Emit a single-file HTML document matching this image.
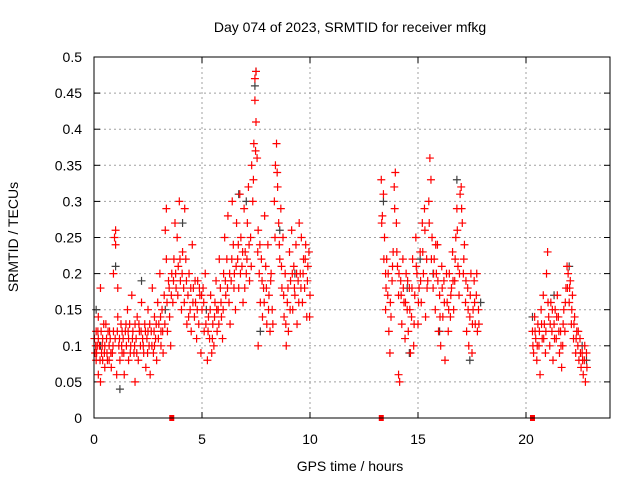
<!DOCTYPE html>
<html><head><meta charset="utf-8"><style>
html,body{margin:0;padding:0;background:#fff;}
svg{display:block;font-family:"Liberation Sans",sans-serif;}
</style></head><body>
<svg id="chart" width="640" height="480" viewBox="0 0 640 480">
<rect x="0" y="0" width="640" height="480" fill="#fff"/>
<text x="350" y="32" font-size="14" text-anchor="middle">Day 074 of 2023, SRMTID for receiver mfkg</text>
<text x="350" y="471" font-size="14" text-anchor="middle">GPS time / hours</text>
<text transform="translate(18,237) rotate(-90)" font-size="14" text-anchor="middle">SRMTID / TECUs</text>
<g id="grid"></g><g id="ticks"></g><g id="marks"></g>
<rect x="94" y="57" width="516" height="361" fill="none" stroke="#000" stroke-width="1"/>
</svg>
<script>
const xTicks=[0,5,10,15,20];
const yTicks=[0,0.05,0.1,0.15,0.2,0.25,0.3,0.35,0.4,0.45,0.5];
const yTickLabels=["0","0.05","0.1","0.15","0.2","0.25","0.3","0.35","0.4","0.45","0.5"];
const gapMarkers=[3.6,13.3,20.3];
const blackPts=[[0.1,0.15],[0.3,0.1],[1.0,0.21],[1.2,0.04],[2.2,0.19],[3.3,0.15],[4.1,0.27],[5.2,0.15],[6.7,0.31],[7.05,0.3],[7.45,0.46],[7.5,0.48],[7.7,0.12],[8.6,0.26],[9.3,0.2],[13.4,0.3],[14.5,0.18],[14.6,0.09],[15.1,0.22],[15.7,0.2],[16.0,0.12],[16.8,0.33],[17.4,0.08],[17.9,0.16],[20.3,0.14],[21.3,0.17],[22.0,0.21],[22.6,0.1],[22.8,0.08]];
const redPts=[[0.05,0.09],[0.1,0.12],[0.1,0.08],[0.15,0.1],[0.2,0.06],[0.2,0.14],[0.25,0.1],[0.3,0.05],[0.3,0.18],[0.35,0.09],[0.4,0.11],[0.4,0.08],[0.5,0.1],[0.5,0.07],[0.55,0.13],[0.6,0.09],[0.65,0.12],[0.7,0.1],[0.75,0.11],[0.8,0.07],[0.85,0.09],[0.9,0.12],[0.9,0.2],[0.95,0.25],[1.0,0.26],[1.0,0.24],[1.05,0.06],[1.1,0.14],[1.1,0.18],[1.15,0.1],[1.2,0.08],[1.25,0.13],[1.3,0.09],[1.35,0.11],[1.4,0.06],[1.45,0.12],[1.5,0.1],[1.55,0.15],[1.6,0.08],[1.65,0.13],[1.7,0.1],[1.75,0.17],[1.8,0.12],[1.85,0.09],[1.9,0.05],[1.95,0.11],[2.0,0.14],[2.05,0.08],[2.1,0.12],[2.15,0.1],[2.2,0.16],
[0.2,0.11],[0.45,0.13],[0.7,0.08],[1.3,0.12],[1.6,0.11],[1.9,0.13],[2.25,0.11],[2.5,0.12],[2.8,0.1],[3.1,0.12],
[2.3,0.09],[2.35,0.13],[2.4,0.07],[2.45,0.11],[2.5,0.15],[2.55,0.1],[2.6,0.06],[2.65,0.12],[2.7,0.18],[2.75,0.09],[2.8,0.14],[2.85,0.11],[2.9,0.08],[2.95,0.16],[3.0,0.13],[3.05,0.2],[3.1,0.1],[3.15,0.15],[3.2,0.09],[3.25,0.17],[3.3,0.26],[3.35,0.29],[3.35,0.22],[3.4,0.12],[3.45,0.19],[3.5,0.14],[3.55,0.1],[3.6,0.2],[3.65,0.16],[3.7,0.22],[3.75,0.27],[3.8,0.18],[3.85,0.25],[3.9,0.21],[3.95,0.3],[4.0,0.19],
[4.05,0.15],[4.1,0.23],[4.15,0.18],[4.2,0.29],[4.25,0.22],[4.3,0.13],[4.35,0.17],[4.4,0.2],[4.45,0.15],[4.5,0.12],[4.55,0.24],[4.6,0.18],[4.65,0.14],[4.7,0.16],[4.75,0.11],[4.8,0.19],[4.85,0.13],[4.9,0.17],[4.95,0.09],[5.0,0.15],[5.05,0.18],[5.1,0.12],[5.15,0.2],
[5.25,0.08],[5.3,0.14],[5.35,0.11],[5.4,0.17],[5.45,0.09],[5.5,0.13],[5.55,0.1],[5.6,0.16],[5.65,0.19],[5.7,0.12],[5.75,0.15],[5.8,0.22],[5.85,0.18],[5.9,0.14],[5.95,0.11],[6.0,0.2],[6.05,0.25],[6.1,0.17],[6.15,0.22],[6.2,0.28],[6.25,0.16],[6.3,0.13],[6.35,0.19],[6.4,0.3],[6.45,0.24],[6.5,0.2],
[6.55,0.15],[6.6,0.27],[6.65,0.22],[6.7,0.18],[6.75,0.31],[6.8,0.25],[6.85,0.21],[6.9,0.16],[6.95,0.29],[7.0,0.23],[7.05,0.2],[7.1,0.27],[7.15,0.32],[7.2,0.19],[7.25,0.25],[7.3,0.35],[7.35,0.3],[7.4,0.38],[7.45,0.44],[7.45,0.47],[7.5,0.48],[7.5,0.41],[7.55,0.36],[7.6,0.1],[7.6,0.26],[7.65,0.2],[7.7,0.16],[7.75,0.22],[7.8,0.14],[7.85,0.18],[7.9,0.28],[7.95,0.21],[8.0,0.13],[8.05,0.24],[8.1,0.17],[8.15,0.12],[8.2,0.2],[8.25,0.15],
[8.35,0.3],[8.4,0.35],[8.45,0.38],[8.5,0.32],[8.55,0.27],[8.6,0.22],[8.65,0.29],[8.7,0.18],[8.75,0.25],[8.8,0.14],[8.85,0.2],[8.9,0.1],[8.95,0.16],[9.0,0.12],[9.05,0.23],[9.1,0.19],[9.15,0.26],[9.2,0.15],[9.25,0.21],[9.3,0.17],[9.35,0.24],[9.4,0.13],[9.45,0.19],[9.5,0.27],[9.55,0.2],[9.6,0.25],[9.65,0.16],[9.7,0.22],[9.75,0.18],[9.8,0.24],[9.85,0.14],[9.9,0.21],[9.95,0.23],[10.0,0.17],
[13.3,0.33],[13.35,0.28],[13.4,0.31],[13.45,0.25],[13.5,0.2],[13.5,0.15],[13.55,0.22],[13.6,0.17],[13.65,0.12],[13.7,0.09],[13.75,0.14],[13.8,0.19],[13.85,0.23],[13.9,0.32],[13.95,0.34],[14.0,0.27],[14.05,0.21],[14.1,0.17],[14.1,0.06],[14.15,0.05],[14.2,0.19],[14.25,0.13],[14.3,0.22],[14.35,0.16],[14.4,0.11],[14.45,0.2],[14.5,0.15],
[14.55,0.12],[14.6,0.18],[14.65,0.09],[14.7,0.14],[14.75,0.22],[14.8,0.1],[14.85,0.17],[14.9,0.25],[14.95,0.2],[15.0,0.13],[15.05,0.18],[15.1,0.23],[15.15,0.16],[15.2,0.27],[15.25,0.2],[15.3,0.29],[15.35,0.14],[15.4,0.22],[15.45,0.19],[15.5,0.3],[15.55,0.36],[15.6,0.33],[15.65,0.25],[15.7,0.18],[15.75,0.22],[15.8,0.15],[15.85,0.2],[15.9,0.24],[15.95,0.12],[16.0,0.17],[16.05,0.1],[16.1,0.21],[16.15,0.14],[16.2,0.19],[16.25,0.08],
[16.35,0.16],[16.4,0.12],[16.45,0.2],[16.5,0.14],[16.55,0.18],[16.6,0.23],[16.65,0.15],[16.7,0.19],[16.75,0.25],[16.8,0.29],[16.85,0.21],[16.9,0.17],[16.95,0.31],[17.0,0.32],[17.05,0.27],[17.1,0.2],[17.15,0.24],[17.2,0.16],[17.25,0.12],[17.3,0.18],[17.35,0.1],[17.4,0.14],[17.45,0.2],[17.5,0.09],[17.55,0.15],[17.6,0.19],[17.65,0.13],[17.7,0.17],[17.75,0.12],[17.8,0.15],
[20.3,0.12],[20.35,0.09],[20.4,0.14],[20.45,0.11],[20.5,0.08],[20.55,0.13],[20.6,0.1],[20.65,0.06],[20.7,0.15],[20.75,0.11],[20.8,0.17],[20.85,0.13],[20.9,0.09],[20.95,0.2],[21.0,0.23],[21.05,0.14],[21.1,0.1],[21.15,0.16],[21.2,0.12],[21.25,0.08],[21.3,0.13],[21.35,0.15],[21.4,0.11],[21.45,0.17],[21.5,0.14],[21.55,0.09],[21.6,0.12],[21.65,0.07],[21.7,0.1],[21.75,0.15],[21.8,0.12],[21.85,0.18],[21.9,0.21],[21.95,0.2],[22.0,0.16],[22.05,0.19],[22.1,0.13],[22.15,0.17],[22.2,0.11],[22.25,0.14],[22.3,0.09],[22.35,0.12],[22.4,0.1],[22.45,0.08],[22.5,0.11],[22.55,0.07],[22.6,0.09],[22.65,0.06],[22.7,0.08],[22.75,0.05],[22.8,0.09]];
const redExtra=[[0.02,0.11],[0.08,0.1],[0.12,0.09],[0.18,0.12],[0.28,0.08],[0.33,0.12],[0.38,0.1],[0.48,0.09],[0.58,0.11],[0.62,0.08],[0.72,0.12],[0.78,0.09],[0.88,0.1],[0.98,0.11],[1.08,0.12],[1.18,0.11],[1.28,0.1],[1.38,0.09],[1.48,0.13],[1.58,0.12],[1.68,0.09],[1.78,0.11],[1.88,0.1],[1.98,0.09],[2.08,0.13],[2.18,0.12],[2.28,0.1],[2.38,0.12],[2.48,0.09],[2.58,0.13],[2.68,0.1],[2.78,0.12],[2.88,0.13],[2.98,0.11],[3.08,0.14],[3.18,0.12],[3.28,0.13],[3.38,0.16],[3.48,0.18],[3.58,0.17],[3.68,0.19],[3.78,0.2],[3.88,0.17],[3.98,0.22],[4.08,0.2],[4.18,0.16],[4.28,0.19],[4.38,0.14],[4.48,0.18],[4.58,0.16],[4.68,0.19],[4.78,0.15],[4.88,0.18],[4.98,0.17],[5.08,0.16],[5.18,0.13],[5.28,0.12],[5.38,0.15],[5.48,0.11],[5.58,0.14],[5.68,0.15],[5.78,0.13],[5.88,0.16],[5.98,0.15],[6.08,0.19],[6.18,0.18],[6.28,0.2],[6.38,0.22],[6.48,0.18],[6.58,0.21],[6.68,0.24],[6.78,0.2],[6.88,0.23],[6.98,0.18],[7.08,0.22],[7.18,0.24],[7.28,0.21],[7.38,0.33],[7.48,0.37],[7.58,0.23],[7.68,0.24],[7.78,0.19],[7.88,0.16],[7.98,0.18],[8.08,0.15],[8.18,0.19],[8.28,0.13],[8.38,0.25],[8.48,0.34],[8.58,0.24],[8.68,0.21],[8.78,0.17],[8.88,0.13],[8.98,0.18],[9.08,0.15],[9.18,0.2],[9.28,0.18],[9.38,0.2],[9.48,0.16],[9.58,0.18],[9.68,0.2],[9.78,0.22],[9.88,0.19],[9.98,0.14],
[13.32,0.27],[13.42,0.22],[13.52,0.18],[13.62,0.2],[13.72,0.16],[13.82,0.21],[13.92,0.29],[14.02,0.23],[14.12,0.2],[14.22,0.17],[14.32,0.18],[14.42,0.16],[14.52,0.19],[14.62,0.15],[14.72,0.18],[14.82,0.13],[14.92,0.21],[15.02,0.16],[15.12,0.19],[15.22,0.23],[15.32,0.26],[15.42,0.18],[15.52,0.27],[15.62,0.22],[15.72,0.2],[15.82,0.24],[15.92,0.19],[16.02,0.14],[16.12,0.18],[16.22,0.16],[16.32,0.2],[16.42,0.15],[16.52,0.17],[16.62,0.19],[16.72,0.22],[16.82,0.26],[16.92,0.2],[17.02,0.29],[17.12,0.22],[17.22,0.19],[17.32,0.15],[17.42,0.17],[17.52,0.13],[17.62,0.16],[17.72,0.2],[17.82,0.13],
[20.32,0.1],[20.42,0.12],[20.52,0.1],[20.62,0.12],[20.72,0.13],[20.82,0.11],[20.92,0.12],[21.02,0.16],[21.12,0.13],[21.22,0.15],[21.32,0.11],[21.42,0.14],[21.52,0.12],[21.62,0.1],[21.72,0.13],[21.82,0.16],[21.92,0.18],[22.02,0.18],[22.12,0.15],[22.22,0.13],[22.32,0.11],[22.42,0.12],[22.52,0.09],[22.62,0.08],[22.72,0.1],[22.82,0.07]];

const L=94,R=610,T=57,B=418,XMAX=24,YMAX=0.5;
const PXH=21.6;
const xs=t=>L+t*PXH;
const ys=v=>B-v*(B-T)/YMAX;
const NS="http://www.w3.org/2000/svg";
function mk(tag,attrs,parent){const e=document.createElementNS(NS,tag);for(const k in attrs)e.setAttribute(k,attrs[k]);parent.appendChild(e);return e;}
const grid=document.getElementById('grid'),ticks=document.getElementById('ticks'),marks=document.getElementById('marks');
xTicks.forEach(t=>{const x=xs(t);
 if(t>0){const g=mk('line',{x1:x,x2:x,y1:T,y2:B,stroke:'#a0a0a0','stroke-dasharray':'2,3'},grid);
 
 }
 mk('line',{x1:x,x2:x,y1:B,y2:B-6,stroke:'#000'},ticks);
 mk('line',{x1:x,x2:x,y1:T,y2:T+6,stroke:'#000'},ticks);
 const lb=mk('text',{x:x,y:B+26,'font-size':14,'text-anchor':'middle'},ticks);lb.textContent=t;
 
 
});
yTicks.forEach((v,i)=>{const y=ys(v);
 if(v>0&&v<YMAX){const g=mk('line',{x1:L,x2:R,y1:y,y2:y,stroke:'#a0a0a0','stroke-dasharray':'2,3'},grid);
 
 }
 mk('line',{x1:L,x2:L+6,y1:y,y2:y,stroke:'#000'},ticks);
 mk('line',{x1:R,x2:R-6,y1:y,y2:y,stroke:'#000'},ticks);
 const lb=mk('text',{x:82,y:y+5,'font-size':14,'text-anchor':'end'},ticks);lb.textContent=yTickLabels[i];
 
 
});
function plus(t,v,color,name){const x=xs(t),y=ys(v);
 const p=mk('path',{d:`M${x-4},${y}h8M${x},${y-4}v8`,stroke:color,'stroke-width':1.2,fill:'none'},marks);
 
 }
blackPts.forEach(p=>plus(p[0],p[1],'#404040','black-point'));
redPts.forEach(p=>plus(p[0],p[1],'#ff0000','red-point'));
redExtra.forEach(p=>plus(p[0],p[1],'#ff0000','red-point'));
gapMarkers.forEach(t=>{const r=mk('rect',{x:xs(t)-2.5,y:B-3,width:5,height:6,fill:'#ff0000'},marks);
 
 });
</script>
</body></html>
